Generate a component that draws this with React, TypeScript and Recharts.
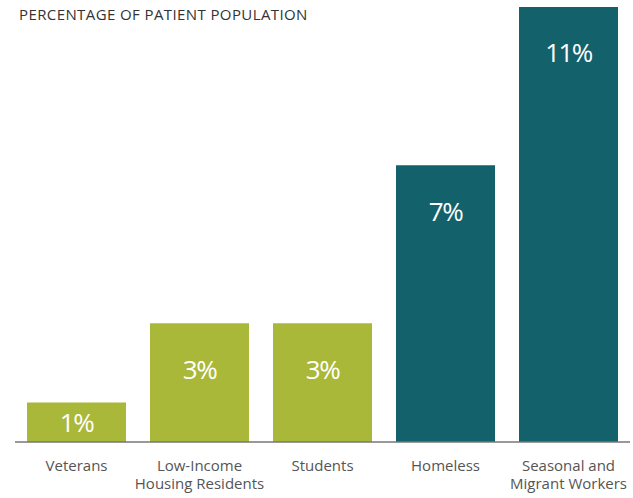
import React from 'react';
import { BarChart, Bar, XAxis, YAxis, Cell, LabelList } from 'recharts';

const categories = ['Veterans', 'Low-Income\nHousing Residents', 'Students', 'Homeless', 'Seasonal and\nMigrant Workers'];
const values = [1, 3, 3, 7, 11];
const groups = ['a', 'a', 'a', 'b', 'b'];
const valueLabels = ['1%', '3%', '3%', '7%', '11%'];
const title = 'PERCENTAGE OF PATIENT POPULATION';

const GREEN = '#aab83a';
const TEAL = '#12616b';
const FONT = '"Open Sans", "Noto Sans", sans-serif';

const data = categories.map((c, i) => ({ name: c, value: values[i], group: groups[i], label: valueLabels[i] }));

const Tick = (props: any) => {
  const { x, y, payload } = props;
  const lines = String(payload.value).split('\n');
  return (
    <g transform={`translate(${x},${y})`}>
      {lines.map((l: string, i: number) => (
        <text key={i} x={0} y={21 + i * 18} textAnchor="middle" fill="#555" fontSize={15} fontFamily={FONT}>
          {l}
        </text>
      ))}
    </g>
  );
};

const ValueLabel = (props: any) => {
  const { x, y, width, height, value } = props;
  const cy = height < 80 ? y + height / 2 : y + 46;
  return (
    <text x={x + width / 2} y={cy} dy="0.36em" textAnchor="middle" fill="#fff" fontSize={26} letterSpacing={-1.5} fontFamily={FONT}>
      {value}
    </text>
  );
};

export default function App() {
  return (
    <div style={{ position: 'absolute', left: 0, top: 0, width: 633, height: 498, background: '#fff' }}>
      <div style={{ position: 'absolute', left: 19, top: 4, fontFamily: FONT, fontSize: 15, color: '#333', letterSpacing: 0.4, whiteSpace: 'nowrap' }}>
        {title}
      </div>
      <BarChart width={633} height={498} data={data} margin={{ top: 7, right: 3, left: 15, bottom: 0 }}>
        <XAxis dataKey="name" height={56} tickLine={false} axisLine={{ stroke: '#777', strokeWidth: 1.5 }} tick={<Tick />} interval={0} />
        <YAxis hide domain={[0, 11]} />
        <Bar dataKey="value" barSize={99} isAnimationActive={false}>
          {data.map((d, i) => (
            <Cell key={i} fill={d.group === 'a' ? GREEN : TEAL} />
          ))}
          <LabelList dataKey="label" content={<ValueLabel />} />
        </Bar>
      </BarChart>
    </div>
  );
}
